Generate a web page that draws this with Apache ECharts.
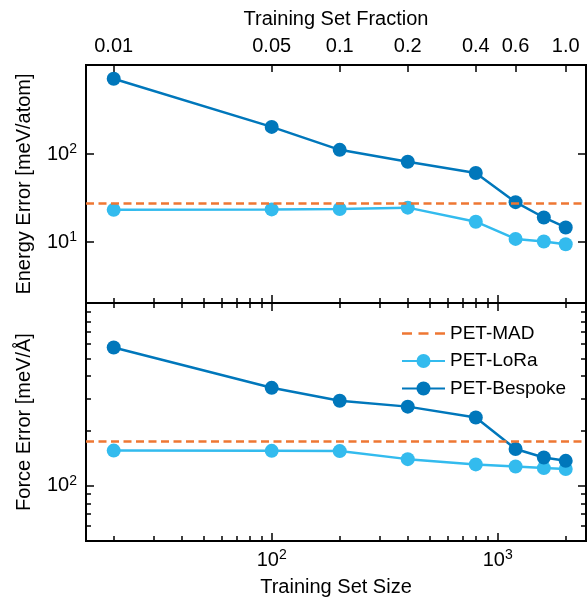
<!DOCTYPE html>
<html><head><meta charset="utf-8">
<script src="https://cdn.jsdelivr.net/npm/echarts@6/dist/echarts.min.js"></script>
<style>html,body{margin:0;padding:0;background:#fff}#c{width:587px;height:601px}</style>
</head><body><div id="c"></div>
<script>
// ---- data ----
const trainingSizes = [20, 100, 200, 400, 800, 1200, 1600, 2000];
const totalSize = 2000;
const energyBespoke = [720, 204, 112, 82, 61, 28.5, 19.1, 14.7];
const energyLoRa = [23.3, 23.6, 23.8, 24.7, 17.1, 10.9, 10.2, 9.5];
const energyMAD = 27.5;
const forceBespoke = [575, 345, 293, 272, 237, 159, 143, 137];
const forceLoRa = [156, 155.5, 155, 140, 131, 127.6, 125, 123.5];
const forceMAD = 175;

// ---- tick labels / ticks ----
const fractionTicks = [0.01, 0.05, 0.1, 0.2, 0.4, 0.6, 1.0];
const fractionLabels = ['0.01', '0.05', '0.1', '0.2', '0.4', '0.6', '1.0'];
const sizeMajorTicks = [100, 1000];
const sizeMinorTicks = [20, 30, 40, 50, 60, 70, 80, 90, 200, 300, 400, 500, 600, 700, 800, 900, 2000];
const energyMajorTicks = [10, 100];
const forceMajorTicks = [100];
const forceMinorTicks = [60, 70, 80, 90, 200, 300, 400, 500, 600, 700, 800, 900];

const xRange = [15.08, 2459];
const energyRange = [2.04, 1030];
const forceRange = [49.7, 1009];

const FONT = 'Liberation Sans';
const C_MAD = '#EE7733', C_LORA = '#33BBEE', C_BESP = '#0077BB';
const DASH = [8, 4.5];
const LW = 2.5;

const supRich = {
  b: { fontSize: 20, fontFamily: FONT, color: '#000', lineHeight: 24 },
  s: { fontSize: 14, fontFamily: FONT, color: '#000', lineHeight: 14, verticalAlign: 'top' }
};
function powLabel(v) { return '{b|10}{s|' + Math.round(v) + '}'; }

function tickAxis(gridIndex, position, range, ticks, len, label) {
  const lg = ticks.map(Math.log10);
  const ax = {
    type: 'value', gridIndex: gridIndex, position: position,
    min: Math.log10(range[0]), max: Math.log10(range[1]),
    axisLine: { show: false }, splitLine: { show: false },
    axisTick: { show: true, inside: true, length: len, customValues: lg,
      lineStyle: { color: '#000', width: 1.5 } },
    axisLabel: { show: false }
  };
  if (label) {
    ax.axisLabel = Object.assign({ show: true, customValues: lg, fontFamily: FONT,
      fontSize: 20, color: '#000' }, label.axisLabel);
    if (label.name) {
      ax.name = label.name; ax.nameLocation = 'middle'; ax.nameGap = label.nameGap;
      ax.nameTextStyle = { fontFamily: FONT, fontSize: 20, color: '#000' };
    }
  }
  return ax;
}
function dataAxis(gridIndex, range) {
  return { type: 'log', logBase: 10, gridIndex: gridIndex, min: range[0], max: range[1], show: false };
}

const fracPositions = fractionTicks.map(f => f * totalSize);

const xAxes = [
  dataAxis(0, xRange),
  dataAxis(1, xRange),
  tickAxis(0, 'bottom', xRange, sizeMajorTicks, 8),
  tickAxis(0, 'bottom', xRange, sizeMinorTicks, 5),
  tickAxis(0, 'top', xRange, fracPositions, 7, {
    axisLabel: { margin: 9, formatter: function (v) {
      const i = fracPositions.findIndex(p => Math.abs(Math.log10(p) - v) < 1e-6);
      return i >= 0 ? fractionLabels[i] : '';
    } },
    name: 'Training Set Fraction', nameGap: 36
  }),
  tickAxis(1, 'bottom', xRange, sizeMajorTicks, 8, {
    axisLabel: { margin: 7, formatter: powLabel, rich: supRich },
    name: 'Training Set Size', nameGap: 36
  }),
  tickAxis(1, 'bottom', xRange, sizeMinorTicks, 5),
  tickAxis(1, 'top', xRange, sizeMajorTicks, 8),
  tickAxis(1, 'top', xRange, sizeMinorTicks, 5)
];
const yAxes = [
  dataAxis(0, energyRange),
  dataAxis(1, forceRange),
  tickAxis(0, 'left', energyRange, energyMajorTicks, 8, {
    axisLabel: { margin: 9, formatter: powLabel, rich: supRich },
    name: 'Energy Error [meV/atom]', nameGap: 52
  }),
  tickAxis(0, 'right', energyRange, energyMajorTicks, 8),
  tickAxis(1, 'left', forceRange, forceMajorTicks, 8, {
    axisLabel: { margin: 9, formatter: powLabel, rich: supRich },
    name: 'Force Error [meV/Å]', nameGap: 52
  }),
  tickAxis(1, 'left', forceRange, forceMinorTicks, 5),
  tickAxis(1, 'right', forceRange, forceMajorTicks, 8),
  tickAxis(1, 'right', forceRange, forceMinorTicks, 5)
];

function pairs(ys) { return trainingSizes.map((x, i) => [x, ys[i]]); }
function madSeries(g, value) {
  return {
    name: 'PET-MAD', type: 'line', xAxisIndex: g, yAxisIndex: g, data: [],
    symbol: 'none', color: C_MAD,
    lineStyle: { color: C_MAD, width: LW, type: DASH },
    markLine: { silent: true, symbol: ['none', 'none'], label: { show: false },
      lineStyle: { color: C_MAD, width: LW, type: DASH },
      data: [{ yAxis: value }] }
  };
}
function dataSeries(name, color, g, ys) {
  return {
    name: name, type: 'line', xAxisIndex: g, yAxisIndex: g, data: pairs(ys),
    symbol: 'circle', symbolSize: 14, color: color,
    lineStyle: { color: color, width: LW }, itemStyle: { color: color }
  };
}

const dashIcon = 'path://M0,0h10v2.5h-10z M16.5,0h10v2.5h-10z M33,0h10v2.5h-10z';

const chart = echarts.init(document.getElementById('c'), null, { renderer: 'canvas' });
chart.setOption({
  animation: false,
  backgroundColor: '#fff',
  grid: [
    { left: 86, top: 65, width: 500, height: 238, show: true, borderColor: '#000', borderWidth: 2, backgroundColor: 'transparent' },
    { left: 86, top: 303, width: 500, height: 238, show: true, borderColor: '#000', borderWidth: 2, backgroundColor: 'transparent' }
  ],
  xAxis: xAxes,
  yAxis: yAxes,
  legend: {
    data: [{ name: 'PET-MAD', icon: dashIcon, itemStyle: { color: C_MAD } }, 'PET-LoRa', 'PET-Bespoke'],
    orient: 'vertical', left: 396, top: 319, itemWidth: 43, itemHeight: 17.5, itemGap: 8.5,
    textStyle: { fontFamily: FONT, fontSize: 19, color: '#000' }
  },
  series: [
    madSeries(0, energyMAD),
    dataSeries('PET-LoRa', C_LORA, 0, energyLoRa),
    dataSeries('PET-Bespoke', C_BESP, 0, energyBespoke),
    madSeries(1, forceMAD),
    dataSeries('PET-LoRa', C_LORA, 1, forceLoRa),
    dataSeries('PET-Bespoke', C_BESP, 1, forceBespoke)
  ]
});
</script></body></html>
